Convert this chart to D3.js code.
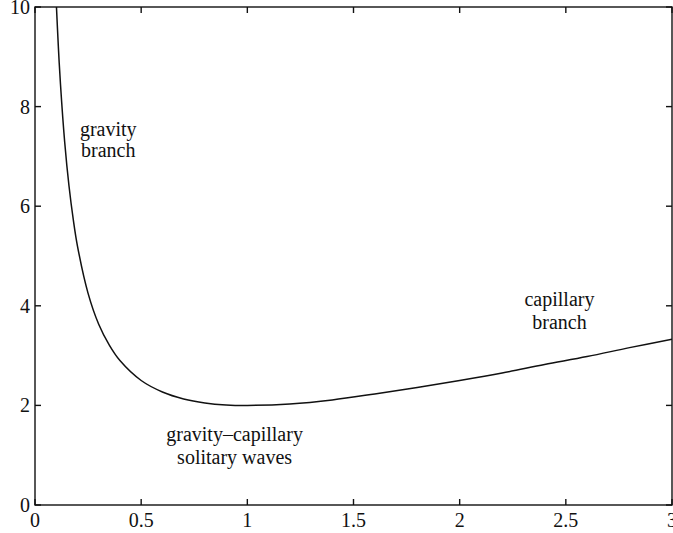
<!DOCTYPE html>
<html>
<head>
<meta charset="utf-8">
<script src="https://cdn.jsdelivr.net/npm/d3@7/dist/d3.min.js"></script>
<style>
  html, body { margin: 0; padding: 0; background: #fff; }
  svg { display: block; }
  text { font-family: "Liberation Serif", "Times New Roman", serif; fill: #111; }
</style>
</head>
<body>
<svg id="chart" width="673" height="533"></svg>
<script>
// Wavenumber k and phase speed c along the dispersion curve
const kValues = [0.10, 0.11, 0.12, 0.14, 0.16, 0.18, 0.20, 0.25, 0.30, 0.35, 0.40, 0.50,
                 0.60, 0.70, 0.80, 0.90, 1.00, 1.20, 1.40, 1.60, 1.80, 2.00, 2.20, 2.40,
                 2.60, 2.80, 3.00];
const cValues = [10.10, 9.20, 8.45, 7.28, 6.41, 5.74, 5.20, 4.25, 3.63, 3.21, 2.90, 2.50,
                 2.27, 2.13, 2.05, 2.01, 2.00, 2.03, 2.11, 2.23, 2.36, 2.50, 2.65, 2.82,
                 2.98, 3.16, 3.33];

const xTicks = [0, 0.5, 1, 1.5, 2, 2.5, 3];
const xTickLabels = ["0", "0.5", "1", "1.5", "2", "2.5", "3"];
const yTicks = [0, 2, 4, 6, 8, 10];
const yTickLabels = ["0", "2", "4", "6", "8", "10"];

const annotations = [
  { lines: ["gravity", "branch"], k: 0.345, c: 7.4, gap: 21 },
  { lines: ["gravity\u2013capillary", "solitary waves"], k: 0.94, c: 1.28, gap: 23 },
  { lines: ["capillary", "branch"], k: 2.47, c: 4.0, gap: 23 }
];

const svg = d3.select("#chart");
const margin = { left: 35, top: 7, right: 1, bottom: 28 };
const W = 673, H = 533;

const x = d3.scaleLinear().domain([0, 3]).range([margin.left, W - margin.right]);
const y = d3.scaleLinear().domain([0, 10]).range([H - margin.bottom, margin.top]);

svg.append("defs").append("clipPath").attr("id", "plotClip")
  .append("rect")
  .attr("x", x(0)).attr("y", y(10))
  .attr("width", x(3) - x(0)).attr("height", y(0) - y(10));

const tickLen = 6;
const fontSize = 20;

// Frame with inward ticks on all four sides
const axisG = svg.append("g").attr("stroke", "#111").attr("stroke-width", 1.4).attr("fill", "none");
axisG.append("rect")
  .attr("x", x(0)).attr("y", y(10))
  .attr("width", x(3) - x(0)).attr("height", y(0) - y(10));

xTicks.forEach(t => {
  axisG.append("line").attr("x1", x(t)).attr("x2", x(t)).attr("y1", y(0)).attr("y2", y(0) - tickLen);
  axisG.append("line").attr("x1", x(t)).attr("x2", x(t)).attr("y1", y(10)).attr("y2", y(10) + tickLen);
});
yTicks.forEach(t => {
  axisG.append("line").attr("y1", y(t)).attr("y2", y(t)).attr("x1", x(0)).attr("x2", x(0) + tickLen);
  axisG.append("line").attr("y1", y(t)).attr("y2", y(t)).attr("x1", x(3)).attr("x2", x(3) - tickLen);
});

// Tick labels
svg.append("g").selectAll("text").data(xTicks).join("text")
  .attr("x", d => x(d))
  .attr("y", y(0) + 22)
  .attr("text-anchor", "middle")
  .attr("font-size", fontSize)
  .text((d, i) => xTickLabels[i]);

svg.append("g").selectAll("text").data(yTicks).join("text")
  .attr("x", x(0) - 5)
  .attr("y", d => y(d))
  .attr("dy", "0.35em")
  .attr("text-anchor", "end")
  .attr("font-size", fontSize)
  .text((d, i) => yTickLabels[i]);

// Dispersion curve
const pts = kValues.map((k, i) => [k, cValues[i]]);
const line = d3.line().x(d => x(d[0])).y(d => y(d[1])).curve(d3.curveCatmullRom.alpha(0.5));
svg.append("path")
  .attr("clip-path", "url(#plotClip)")
  .attr("d", line(pts))
  .attr("fill", "none")
  .attr("stroke", "#111")
  .attr("stroke-width", 1.5);

// Annotations
annotations.forEach(a => {
  const t = svg.append("text")
    .attr("x", x(a.k)).attr("y", y(a.c))
    .attr("text-anchor", "middle")
    .attr("font-size", fontSize);
  a.lines.forEach((s, i) => {
    t.append("tspan").attr("x", x(a.k)).attr("dy", i === 0 ? 0 : a.gap).text(s);
  });
});
</script>
</body>
</html>
